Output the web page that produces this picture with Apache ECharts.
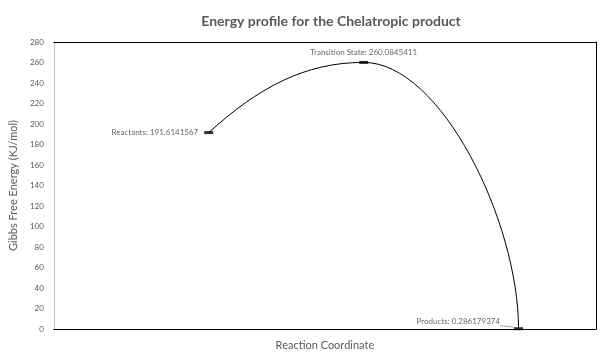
<!DOCTYPE html>
<html>
<head>
<meta charset="utf-8">
<script src="https://cdn.jsdelivr.net/npm/echarts@6/dist/echarts.min.js"></script>
<style>html,body{margin:0;padding:0;background:#fff;}#c{width:609px;height:358px;}</style>
</head>
<body>
<div id="c"></div>
<script>
// ---- data ----
const categories = ['Reactants', 'Transition State', 'Products'];
const reactionCoord = [1, 2, 3];
const energies = [191.6141567, 260.0845411, 0.286179374];
const yTickMin = 0, yTickMax = 280, yTickStep = 20;

// ---- styles (not data) ----
const labelStyles = [
  { position: 'left', distance: 6, offset: [0, 0] },
  { position: 'top', distance: 4, offset: [0, 0] },
  { position: 'left', distance: 8, offset: [-6, -7] }
];

const points = reactionCoord.map((x, i) => [x, energies[i]]);

const chart = echarts.init(document.getElementById('c'), null, { renderer: 'canvas' });

const font = 'Lato, "Open Sans", sans-serif';

chart.setOption({
  animation: false,
  title: {
    text: 'Energy profile for the Chelatropic product',
    left: 326, top: 9, textAlign: 'center',
    textStyle: { fontFamily: font, fontWeight: 'bold', fontSize: 14, color: '#595959' }
  },
  grid: { left: 51, right: 13, top: 42, bottom: 29, containLabel: false },
  xAxis: [{
    type: 'value', min: 0, max: 3.5,
    name: 'Reaction Coordinate', nameLocation: 'middle', nameGap: 11,
    nameTextStyle: { fontFamily: font, fontSize: 11, color: '#595959', verticalAlign: 'top' },
    axisLine: { show: true, onZero: false, lineStyle: { color: '#000', width: 1 } },
    axisTick: { show: false }, axisLabel: { show: false }, splitLine: { show: false }
  }, {
    type: 'value', min: 0, max: 3.5, position: 'top',
    axisLine: { show: true, onZero: false, lineStyle: { color: '#000', width: 1 } },
    axisTick: { show: false }, axisLabel: { show: false }, splitLine: { show: false }
  }],
  yAxis: [{
    type: 'value', min: yTickMin, max: yTickMax, interval: yTickStep,
    name: 'Gibbs Free Energy (KJ/mol)', nameLocation: 'middle', nameGap: 31,
    nameTextStyle: { fontFamily: font, fontSize: 11, color: '#595959' },
    axisLine: { show: true, onZero: false, lineStyle: { color: '#bfbfbf', width: 1 } },
    axisTick: { show: false },
    axisLabel: { fontFamily: font, fontSize: 8, color: '#595959', margin: 10 },
    splitLine: { show: false }
  }, {
    type: 'value', min: yTickMin, max: yTickMax, interval: yTickStep, position: 'right',
    axisLine: { show: true, onZero: false, lineStyle: { color: '#000', width: 1 } },
    axisTick: { show: false }, axisLabel: { show: false }, splitLine: { show: false }
  }],
  series: [{
    type: 'custom',
    coordinateSystem: 'cartesian2d',
    xAxisIndex: 0, yAxisIndex: 0,
    data: points.slice(0, points.length - 1).map((p, i) => [p[0], p[1], points[i + 1][0], points[i + 1][1], i]),
    encode: { x: [0, 2], y: [1, 3] },
    renderItem: function (params, api) {
      const a = api.coord([api.value(0), api.value(1)]);
      const b = api.coord([api.value(2), api.value(3)]);
      const seg = api.value(4);
      const dx = b[0] - a[0], dy = b[1] - a[1];
      let c0, c1;
      if (seg === 0) {
        c0 = [a[0] + 0.32 * dx, a[1] + 0.64 * dy];
        c1 = [b[0] - 0.38 * dx, b[1]];
      } else {
        c0 = [a[0] + 0.5 * dx, a[1]];
        c1 = [b[0], b[1] - 0.4 * dy];
      }
      return {
        type: 'bezierCurve',
        shape: { x1: a[0], y1: a[1], cpx1: c0[0], cpy1: c0[1], cpx2: c1[0], cpy2: c1[1], x2: b[0], y2: b[1] },
        style: { stroke: '#000', lineWidth: 1, fill: null }
      };
    },
    z: 2
  }, {
    type: 'scatter',
    xAxisIndex: 0, yAxisIndex: 0,
    symbol: 'rect', symbolSize: [9, 3],
    itemStyle: { color: '#000' },
    z: 3,
    data: points.map((p, i) => ({
      value: p,
      name: categories[i],
      label: {
        show: true,
        position: labelStyles[i].position,
        distance: labelStyles[i].distance,
        offset: labelStyles[i].offset,
        formatter: categories[i] + ': ' + energies[i],
        fontFamily: font, fontSize: 8, color: '#404040'
      },
      labelLine: i === 2 ? { show: true, lineStyle: { color: '#a6a6a6', width: 1 } } : { show: false }
    }))
  }]
});
</script>
</body>
</html>
